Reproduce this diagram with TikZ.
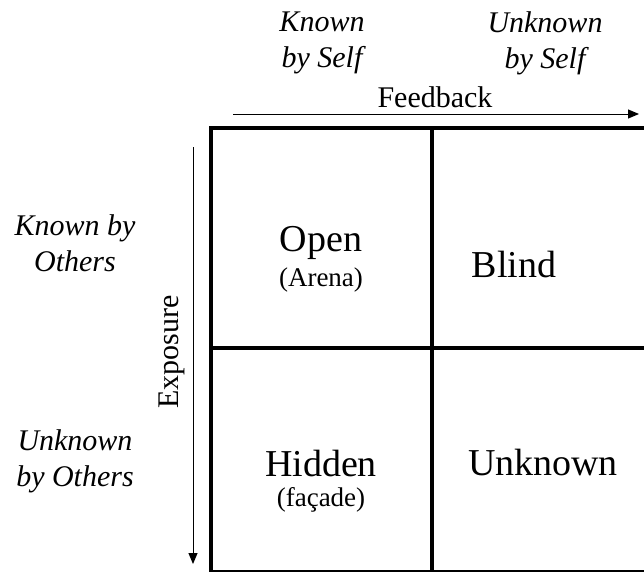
\documentclass[tikz,border=0pt]{standalone}
\usepackage{fontspec}
\setmainfont{Liberation Serif}
\usetikzlibrary{arrows.meta}
\begin{document}
\begin{tikzpicture}[x=1pt,y=-1pt,
  lbl/.style={font=\fontsize{30}{36}\selectfont\itshape, align=center, inner sep=0pt},
  axis/.style={font=\fontsize{30}{36}\selectfont, inner sep=0pt},
  big/.style={font=\fontsize{38}{44}\selectfont, inner sep=0pt},
  small/.style={font=\fontsize{27}{32}\selectfont, inner sep=0pt},
  gridline/.style={line width=4pt},
  arr/.style={line width=1pt, -{Triangle[length=11pt,width=9pt]}}]
\useasboundingbox (0,0) rectangle (644,571);
\clip (0,0) rectangle (644,571);
% grid
\coordinate (tl) at (211,128);
\coordinate (br) at (656,572);
\draw[gridline] (tl) rectangle (br);
\coordinate (mt) at (432,128);
\coordinate (mb) at (432,572);
\coordinate (ml) at (211,348);
\coordinate (mr) at (656,348);
\draw[gridline] (mt) -- (mb);
\draw[gridline] (ml) -- (mr);
% column headings
\node[lbl] (kself) at (322,43) {Known\\by Self};
\node[lbl] (uself) at (545,43) {Unknown\\by Self};
% feedback
\node[axis] (fb) at (435,97) {Feedback};
\coordinate (fbs) at (233,114);
\coordinate (fbe) at (639,114);
\draw[arr] (fbs) -- (fbe);
% row headings
\node[lbl] (kothers) at (75,243) {Known by\\Others};
\node[lbl] (uothers) at (75,461) {Unknown\\by Others};
% exposure
\node[axis, rotate=90] (ex) at (172,352) {Exposure};
\coordinate (exs) at (193,147);
\coordinate (exe) at (193,564);
\draw[arr] (exs) -- (exe);
% cells
\node[big] (open) at (321,243) {Open};
\node[small] (arena) at (321,280) {(Arena)};
\node[big] (blind) at (514,264) {Blind};
\node[big] (hidden) at (321,463) {Hidden};
\node[small] (facade) at (321,500) {(façade)};
\node[big] (unknown) at (543,462) {Unknown};
\end{tikzpicture}
\end{document}
